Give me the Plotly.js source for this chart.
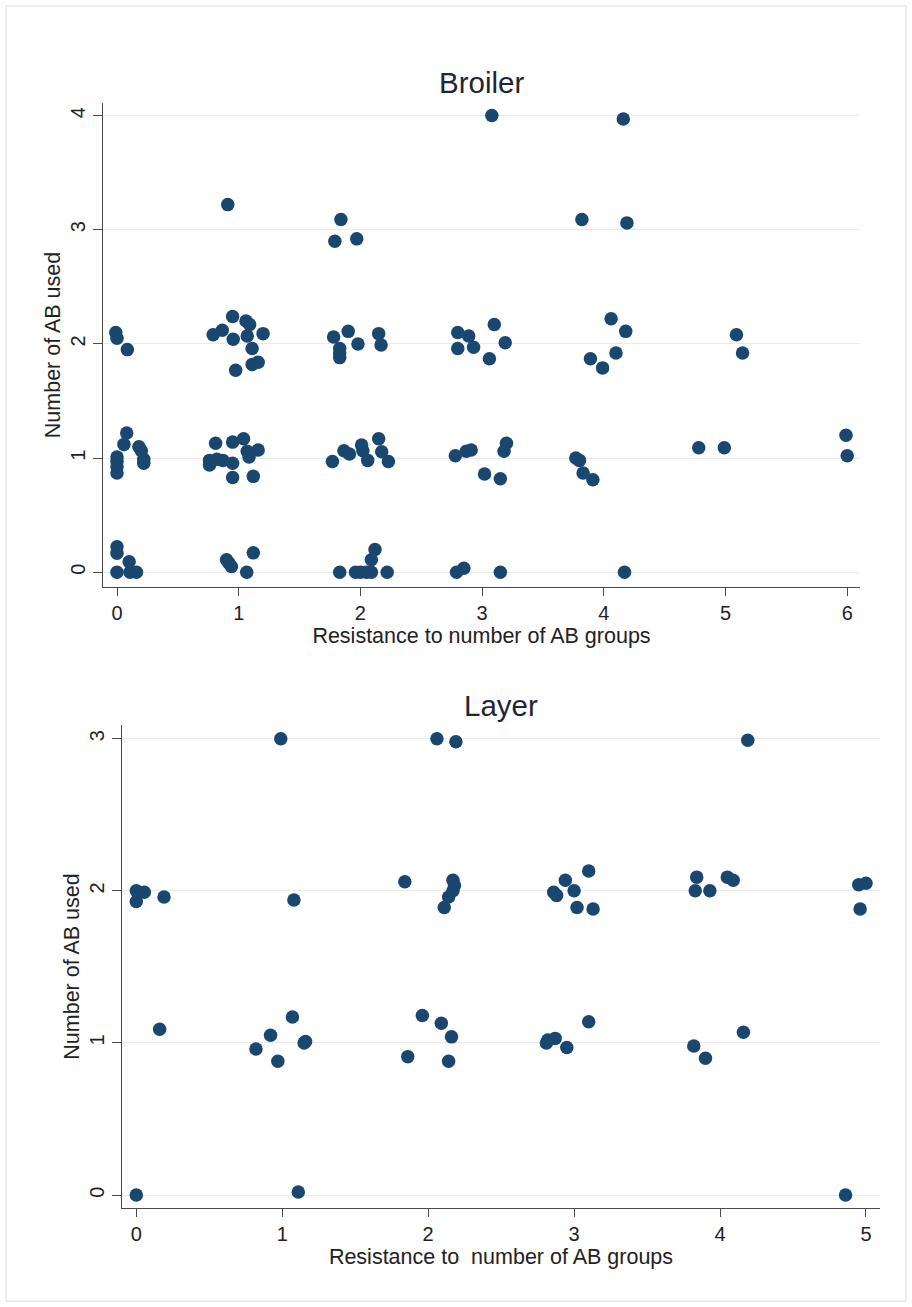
<!DOCTYPE html>
<html>
<head>
<meta charset="utf-8">
<script src="https://cdn.plot.ly/plotly-3.0.1.min.js"></script>
<style>
  html, body { margin: 0; padding: 0; background: #ffffff; }
  #chart { width: 912px; height: 1307px; }
</style>
</head>
<body>
<div id="chart"></div>
<script>
// ---- Broiler: resistance (jittered) vs number of AB used (jittered) ----
const broilerX = [
  3.08, 4.16, 0.91, 1.84, 1.79, 1.97, 3.82, 4.19,
  -0.01, 0.00, 0.085,
  0.79, 0.865, 0.95, 0.955, 1.06, 1.09, 1.07, 1.20, 1.11, 1.16, 1.11, 0.975,
  1.78, 1.90, 1.83, 1.83, 1.83, 1.98, 2.15, 2.17,
  2.80, 2.89, 2.80, 2.93, 3.06, 3.10, 3.19,
  4.06, 4.18, 3.89, 3.99, 4.10,
  5.09, 5.14,
  0.08, 0.057, 0.00, 0.00, 0.00, 0.00, 0.18, 0.20, 0.22, 0.22,
  0.81, 0.95, 1.04, 1.07, 1.085, 1.16, 0.76, 0.76, 0.82, 0.87, 0.95, 0.95, 1.12,
  1.77, 1.865, 1.91, 2.01, 2.02, 2.06, 2.15, 2.175, 2.23,
  2.78, 2.87, 2.91, 3.02, 3.15, 3.20, 3.18,
  3.77, 3.80, 3.83, 3.91,
  4.78, 4.99, 5.99, 6.00,
  0.00, 0.00, 0.00, 0.10, 0.107, 0.16,
  0.90, 0.92, 0.94, 1.066, 1.12,
  1.83, 1.96, 2.00, 2.05, 2.09, 2.12, 2.09, 2.22,
  2.79, 2.85, 3.15, 4.17
];
const broilerY = [
  4.00, 3.97, 3.22, 3.09, 2.90, 2.92, 3.09, 3.06,
  2.10, 2.05, 1.95,
  2.08, 2.12, 2.24, 2.04, 2.20, 2.17, 2.07, 2.09, 1.96, 1.84, 1.82, 1.77,
  2.06, 2.11, 1.96, 1.92, 1.88, 2.00, 2.09, 1.99,
  2.10, 2.07, 1.96, 1.97, 1.87, 2.17, 2.01,
  2.22, 2.11, 1.87, 1.79, 1.92,
  2.08, 1.92,
  1.22, 1.12, 1.01, 0.97, 0.925, 0.87, 1.10, 1.065, 0.99, 0.955,
  1.13, 1.14, 1.17, 1.06, 1.01, 1.07, 0.98, 0.94, 0.99, 0.98, 0.955, 0.83, 0.84,
  0.97, 1.065, 1.035, 1.115, 1.065, 0.98, 1.17, 1.055, 0.97,
  1.02, 1.06, 1.07, 0.86, 0.82, 1.13, 1.06,
  1.00, 0.98, 0.87, 0.81,
  1.09, 1.09, 1.20, 1.02,
  0.224, 0.166, 0.00, 0.093, 0.00, 0.00,
  0.11, 0.08, 0.05, 0.00, 0.17,
  0.00, 0.00, 0.00, 0.00, 0.00, 0.20, 0.11, 0.00,
  0.00, 0.035, 0.00, 0.00
];

// ---- Layer ----
const layerX = [
  0.99, 2.06, 2.19, 4.19,
  0.00, 0.00, 0.055, 0.19, 1.08, 1.84, 2.17, 2.18, 2.17, 2.14, 2.11,
  2.86, 2.88, 2.94, 3.00, 3.10, 3.02, 3.13,
  3.84, 3.83, 3.93, 4.05, 4.09,
  4.95, 5.00, 4.96,
  0.16, 0.82, 0.92, 0.97, 1.07, 1.15, 1.16,
  1.86, 1.96, 2.09, 2.16, 2.14,
  2.81, 2.82, 2.87, 2.95, 3.10,
  3.82, 3.90, 4.16,
  0.00, 1.11, 4.86
];
const layerY = [
  3.00, 3.00, 2.98, 2.99,
  2.00, 1.93, 1.99, 1.96, 1.94, 2.06, 2.07, 2.035, 2.00, 1.96, 1.89,
  1.99, 1.97, 2.07, 2.00, 2.13, 1.89, 1.88,
  2.09, 2.00, 2.00, 2.09, 2.07,
  2.04, 2.05, 1.88,
  1.09, 0.96, 1.05, 0.88, 1.17, 1.00, 1.01,
  0.91, 1.18, 1.13, 1.04, 0.88,
  1.00, 1.02, 1.03, 0.97, 1.14,
  0.98, 0.90, 1.07,
  0.00, 0.02, 0.00
];

const broilerTicksX = [0, 1, 2, 3, 4, 5, 6];
const broilerTicksY = [0, 1, 2, 3, 4];
const layerTicksX = [0, 1, 2, 3, 4, 5];
const layerTicksY = [0, 1, 2, 3];

const xTitle1 = 'Resistance to number of AB groups';
const xTitle2 = 'Resistance to\u00a0 number of AB groups';
const yTitle = 'Number of AB used';

const W = 912, H = 1307;
const px = v => v / W;
const py = v => 1 - v / H;

const markerStyle = { color: '#1a476f', size: 13.5, line: { width: 0 } };
const FONT = 'Liberation Sans, Arial, sans-serif';
const axisCol = '#4a4a4a';
const gridCol = '#eaeaea';

const traces = [
  { x: broilerX, y: broilerY, type: 'scatter', mode: 'markers', marker: markerStyle,
    xaxis: 'x', yaxis: 'y', hoverinfo: 'x+y', showlegend: false },
  { x: layerX, y: layerY, type: 'scatter', mode: 'markers', marker: markerStyle,
    xaxis: 'x2', yaxis: 'y2', hoverinfo: 'x+y', showlegend: false }
];

function xAxis(domain, range, ticks, title, anchor) {
  return {
    domain: domain, range: range, anchor: anchor,
    tickmode: 'array', tickvals: ticks, ticktext: ticks.map(String),
    showgrid: false, zeroline: false,
    showline: true, linecolor: axisCol, linewidth: 1.3,
    ticks: 'outside', ticklen: 8, tickwidth: 1.3, tickcolor: axisCol,
    tickfont: { family: FONT, size: 20, color: '#222' },
    title: { text: title, font: { family: FONT, size: 21.5, color: '#222' }, standoff: 3 }
  };
}
function yAxis(domain, range, ticks, title, anchor, standoff) {
  return {
    domain: domain, range: range, anchor: anchor,
    tickmode: 'array', tickvals: ticks, ticktext: ticks.map(String),
    showgrid: true, gridcolor: gridCol, gridwidth: 1.3, zeroline: false,
    showline: true, linecolor: axisCol, linewidth: 1.3,
    ticks: 'outside', ticklen: 9, tickwidth: 1.3, tickcolor: axisCol,
    tickangle: -90,
    tickfont: { family: FONT, size: 20, color: '#222' },
    title: { text: title, font: { family: FONT, size: 21.5, color: '#222' }, standoff: standoff }
  };
}

const layout = {
  width: W, height: H,
  margin: { l: 0, r: 0, t: 0, b: 0, pad: 0 },
  paper_bgcolor: '#ffffff', plot_bgcolor: '#ffffff',
  font: { family: FONT },
  xaxis: xAxis([px(103), px(860)], [-0.115, 6.105], broilerTicksX, xTitle1, 'y'),
  yaxis: yAxis([py(587), py(103)], [-0.129, 4.11], broilerTicksY, yTitle, 'x', 0),
  xaxis2: xAxis([px(122), px(880)], [-0.098, 5.096], layerTicksX, xTitle2, 'y2'),
  yaxis2: yAxis([py(1208), py(725)], [-0.085, 3.09], layerTicksY, yTitle, 'x2', 0),
  annotations: [
    { text: 'Broiler', xref: 'paper', yref: 'paper', x: px(481), y: py(82),
      xanchor: 'center', yanchor: 'middle', showarrow: false,
      font: { family: FONT, size: 29.5, color: '#1e2538' } },
    { text: 'Layer', xref: 'paper', yref: 'paper', x: px(501), y: py(705),
      xanchor: 'center', yanchor: 'middle', showarrow: false,
      font: { family: FONT, size: 29.5, color: '#1e2538' } }
  ],
  shapes: [
    { type: 'rect', xref: 'paper', yref: 'paper',
      x0: px(6), x1: px(906), y0: py(1301), y1: py(6),
      line: { color: '#dcdcdc', width: 1 }, fillcolor: 'rgba(0,0,0,0)', layer: 'below' }
  ]
};

Plotly.newPlot('chart', traces, layout, { displayModeBar: false, responsive: false });
</script>
</body>
</html>
